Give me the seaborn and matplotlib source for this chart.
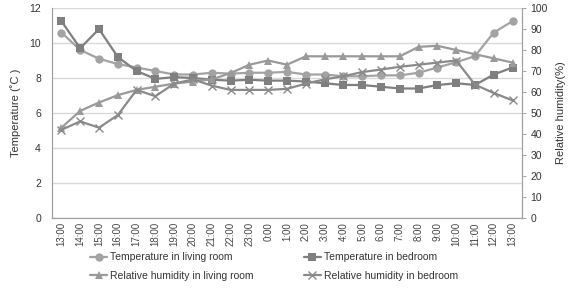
import numpy as np
import pandas as pd
import matplotlib
matplotlib.use("Agg")
import matplotlib.pyplot as plt
import seaborn as sns

times = ["13:00", "14:00", "15:00", "16:00", "17:00", "18:00", "19:00", "20:00",
         "21:00", "22:00", "23:00", "0:00", "1:00", "2:00", "3:00", "4:00", "5:00",
         "6:00", "7:00", "8:00", "9:00", "10:00", "11:00", "12:00", "13:00"]

temp_living = [10.6, 9.6, 9.1, 8.8, 8.6, 8.4, 8.2, 8.2, 8.3, 8.25, 8.3, 8.3, 8.35,
               8.2, 8.2, 8.1, 8.1, 8.15, 8.15, 8.3, 8.6, 8.9, 9.25, 10.6, 11.25]
temp_bedroom = [11.25, 9.7, 10.8, 9.2, 8.4, 7.95, 8.05, 8.0, 7.9, 7.85, 7.9, 7.85, 7.85,
                7.8, 7.7, 7.6, 7.6, 7.5, 7.4, 7.4, 7.6, 7.7, 7.6, 8.2, 8.6]
rh_living = [43, 51, 55, 58.5, 61, 62.5, 64, 65, 66, 69, 73, 75, 73,
             77, 77, 77, 77, 77, 77, 81.5, 82, 80, 78, 76, 74]
rh_bedroom = [42, 46, 43, 49, 61, 58, 64, 66, 63, 61, 61, 61, 61.5,
              64, 66, 67.5, 69.5, 70.7, 72, 73, 74, 75, 63.5, 59.5, 56]

idx = np.arange(len(times))
df = pd.DataFrame({"i": idx, "tl": temp_living, "tb": temp_bedroom,
                   "rl": rh_living, "rb": rh_bedroom})

sns.set_theme(style="white")
plt.rcParams["font.family"] = ["Liberation Sans", "DejaVu Sans"]

fig = plt.figure(figsize=(5.73, 2.91), dpi=100)
ax = fig.add_axes([52/573, 1-218/291, (522-52)/573, (218-8)/291])
ax2 = ax.twinx()

c_tl = "#a3a3a3"
c_tb = "#7f7f7f"
c_rl = "#9a9a9a"
c_rb = "#8a8a8a"

sns.lineplot(data=df, x="i", y="tl", ax=ax, color=c_tl, marker="o", markersize=6,
             markeredgewidth=0, linewidth=1.6, label="Temperature in living room", legend=False)
sns.lineplot(data=df, x="i", y="tb", ax=ax, color=c_tb, marker="s", markersize=5.5,
             markeredgewidth=0, linewidth=1.6, label="Temperature in bedroom", legend=False)
sns.lineplot(data=df, x="i", y="rl", ax=ax2, color=c_rl, marker="^", markersize=6,
             markeredgewidth=0, linewidth=1.6, label="Relative humidity in living room", legend=False)
sns.lineplot(data=df, x="i", y="rb", ax=ax2, color=c_rb, marker="x", markersize=6,
             markeredgewidth=1.0, markeredgecolor=c_rb, linewidth=1.6,
             label="Relative humidity in bedroom", legend=False)

ax.set_xlim(-0.5, len(times) - 0.5)
ax.set_ylim(0, 12)
ax2.set_ylim(0, 100)
ax.set_yticks(np.arange(0, 13, 2))
ax2.set_yticks(np.arange(0, 101, 10))
ax.set_xticks(idx)
ax.set_xticklabels(times, rotation=90, fontsize=7, color="#444444")
ax.set_xticks(np.arange(-0.5, len(times), 1), minor=True)
ax.tick_params(axis="x", which="major", length=0, pad=3)
ax.tick_params(axis="x", which="minor", length=3, color="#999999", width=0.6, direction="out")
ax.tick_params(axis="y", length=0, labelsize=7.5, labelcolor="#333333", pad=8)
ax2.tick_params(axis="y", length=3, color="#999999", width=0.6, labelsize=7.5,
                labelcolor="#333333", pad=3)
ax.grid(axis="y", color="#d9d9d9", linewidth=1.0)
ax.set_axisbelow(True)
ax.set_xlabel("")
ax.set_ylabel("Temperature (\u02daC )", fontsize=8, color="#333333", labelpad=6)
ax2.set_ylabel("Relative humidity(%)", fontsize=8, color="#333333", labelpad=6)

for a in (ax, ax2):
    a.spines["top"].set_visible(False)
    for s in ("left", "right", "bottom"):
        a.spines[s].set_color("#a0a0a0")
        a.spines[s].set_linewidth(0.8)

h1, l1 = ax.get_legend_handles_labels()
h2, l2 = ax2.get_legend_handles_labels()
# column-major fill: col1 = [temp living, rh living], col2 = [temp bedroom, rh bedroom]
handles = [h1[0], h2[0], h1[1], h2[1]]
labels = [l1[0], l2[0], l1[1], l2[1]]
fig.legend(handles, labels, loc="lower left", bbox_to_anchor=(84/573, 4/291, 380/573, 50/291),
           ncol=2, mode="expand", frameon=False, fontsize=7.5, handlelength=1.6,
           handletextpad=0.3, labelspacing=0.8, borderaxespad=0.2, labelcolor="#333333")

fig.savefig("out.png", dpi=100)
